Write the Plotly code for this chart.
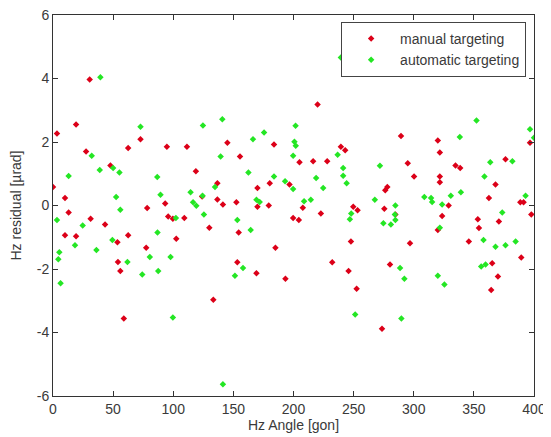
import plotly.graph_objects as go

# manual targeting (red)
manual_x = [0, 3.3, 10, 10, 13, 19.2, 19.2, 27.5, 30.5, 31.3, 43.3, 47.75, 53.6, 54, 56, 58.9,
            62.5, 62.5, 72.75, 77.5, 78.3, 93.3, 94.7, 95.8, 99.7, 102.5, 109.2, 111.4, 118.8,
            124, 130, 133.3, 136.7, 136.7, 141.3, 145, 152.5, 153.3, 154.4, 155.5, 169.2, 170,
            170, 179.4, 180.25, 183.8, 185, 193.3, 196.7, 199.7, 204.4, 205, 207.75, 216.3, 220,
            222.75, 228, 232.2, 239.4, 243, 245.8, 247.75, 249.7, 252.5, 253.3, 273.6, 275.5,
            276.3, 278, 280.25, 284.7, 289.4, 295, 296.9, 300.25, 320, 320, 321.7, 321.7, 321.7,
            323.6, 329, 334.7, 338.6, 345.8, 353.3, 354.2, 362.5, 364.4, 365.25, 368, 370, 370.8,
            376.3, 388.6, 391.3, 389.4, 396.7, 397.75]
manual_y = [0.58, 2.27, 0.24, -0.94, -0.22, 2.55, -0.97, 1.70, 3.97, -0.42, -0.60, 1.26, -1.16,
            -1.78, -2.06, -3.56, 1.81, -0.94, 2.09, -1.33, -0.08, 0.06, 1.85, -0.35, -0.42, -1.05,
            -0.39, 1.85, 1.08, 0.28, -0.70, -2.97, 0.70, 0.19, 0.03, 1.98, 0.10, -1.79, -0.85,
            1.54, -2.13, 0.55, -0.04, 0.0, 0.70, 1.92, -1.33, -2.31, 0.66, -0.39, -0.46, 1.36,
            -0.07, 1.39, 3.18, -0.25, 1.39, -1.79, 1.85, 1.74, -2.06, -1.13, -0.04, -2.62, -0.15,
            -3.88, -0.10, 0.48, 0.58, -1.86, -0.28, 2.19, 1.33, -1.19, 0.91, 2.05, -0.77, 1.67,
            0.91, 0.73, -0.33, 0.0, 1.26, 1.18, -1.13, -0.43, -0.71, 0.24, -2.66, -1.82, 0.66,
            -2.24, -0.50, 1.46, 0.10, 0.10, -1.64, 1.98, -0.28]

# automatic targeting (green)
auto_x = [3.3, 4.4, 5.25, 6.3, 13, 18.3, 24.7, 32.2, 36.1, 38.9, 39.4, 49.4, 50, 52.5, 55.25,
          56, 61.9, 72.75, 74.2, 80.5, 86.7, 86.9, 87.5, 89.4, 97.75, 99.7, 102.2, 114.4, 116.5,
          119.2, 124.4, 124.7, 125.5, 134.7, 139.4, 140.8, 141.3, 151.3, 153.3, 158, 162.5,
          164.4, 166.3, 169.2, 171.9, 175.5, 183.8, 193, 199.7, 199.7, 200.8, 201.9, 201.7,
          208.8, 214.4, 218.8, 224.7, 236.7, 239.4, 241.3, 241.3, 244.2, 246.9, 248, 251.3,
          267.6, 271.9, 274.75, 281, 284.7, 284.7, 284.3, 288.6, 289.7, 292.2, 308.8, 314.4,
          315.3, 320, 321.7, 323.6, 325.5, 330.8, 338.3, 339.2, 352.2, 356.1, 358, 358.8, 359.7,
          363.6, 368, 373.6, 376.3, 382, 384.7, 393, 396.7, 400]
auto_y = [-0.46, -1.69, -1.47, -2.45, 0.93, -1.25, -0.63, 1.57, -1.40, 1.12, 4.04, -1.09, 1.18,
          0.27, 1.04, -0.13, -1.78, 2.48, -2.17, -1.62, 0.90, -0.85, -2.06, 0.34, -1.62, -3.53,
          -0.39, 0.42, 0.10, -0.01, 0.31, 2.52, -0.28, 0.58, 1.54, 2.72, -5.63, -2.21, -0.46,
          -1.97, 1.04, -0.77, 2.09, 0.18, 0.11, 2.30, 0.91, 0.76, 1.57, 0.52, 2.01, 1.88, 2.51,
          0.13, 0.18, 0.87, 0.55, 1.60, 4.66, 1.18, 0.94, 0.70, -0.43, -0.25, -3.43, 0.18, 1.25,
          -0.56, -0.60, 0.0, -0.46, -0.28, -1.97, -3.56, -2.31, 0.27, 0.24, 0.11, -2.21, -0.70,
          0.03, -2.49, 0.31, 2.16, 0.42, 2.68, -1.92, -1.09, 0.91, -1.86, 1.36, -1.30, -0.22,
          -1.25, 1.39, -1.13, 0.31, 2.40, 2.13]

x_ticks = [0, 50, 100, 150, 200, 250, 300, 350, 400]
y_ticks = [-6, -4, -2, 0, 2, 4, 6]

FONT = "Liberation Sans, Arial, sans-serif"
TXT = "#3a3a3a"

fig = go.Figure()
fig.add_trace(go.Scatter(x=manual_x, y=manual_y, mode="markers", name="manual targeting",
                         marker=dict(symbol="diamond", size=5, color="#dc0018")))
fig.add_trace(go.Scatter(x=auto_x, y=auto_y, mode="markers", name="automatic targeting",
                         marker=dict(symbol="diamond", size=5, color="#24e624")))

axis_common = dict(showgrid=False, zeroline=False, showline=True, linecolor="#333333",
                   linewidth=1, mirror="ticks", ticks="inside", ticklen=5, tickcolor="#333333",
                   automargin=False, ticklabeloverflow="allow",
                   tickfont=dict(family=FONT, size=14, color=TXT))
fig.update_xaxes(range=[0, 400], tickvals=x_ticks, ticktext=[str(v) for v in x_ticks],
                 title=dict(text="Hz Angle [gon]", font=dict(family=FONT, size=14, color=TXT),
                            standoff=3),
                 **axis_common)
fig.update_yaxes(range=[-6, 6], tickvals=y_ticks, ticktext=[str(v) for v in y_ticks],
                 title=dict(text="Hz residual [µrad]", font=dict(family=FONT, size=14, color=TXT),
                            standoff=12),
                 **axis_common)

# page body has an 8px margin, so the figure is sized to fit the 551x437 window
fig.update_layout(
    width=543, height=429,
    margin=dict(l=45, r=17, t=7, b=41),
    paper_bgcolor="white", plot_bgcolor="white",
    font=dict(family=FONT, size=13, color=TXT),
    showlegend=True,
    legend=dict(x=0.599, y=0.982, xanchor="left", yanchor="top",
                bgcolor="white", bordercolor="#444444", borderwidth=1,
                font=dict(family=FONT, size=14, color=TXT),
                itemwidth=48),
)

fig.write_html("out.html")
